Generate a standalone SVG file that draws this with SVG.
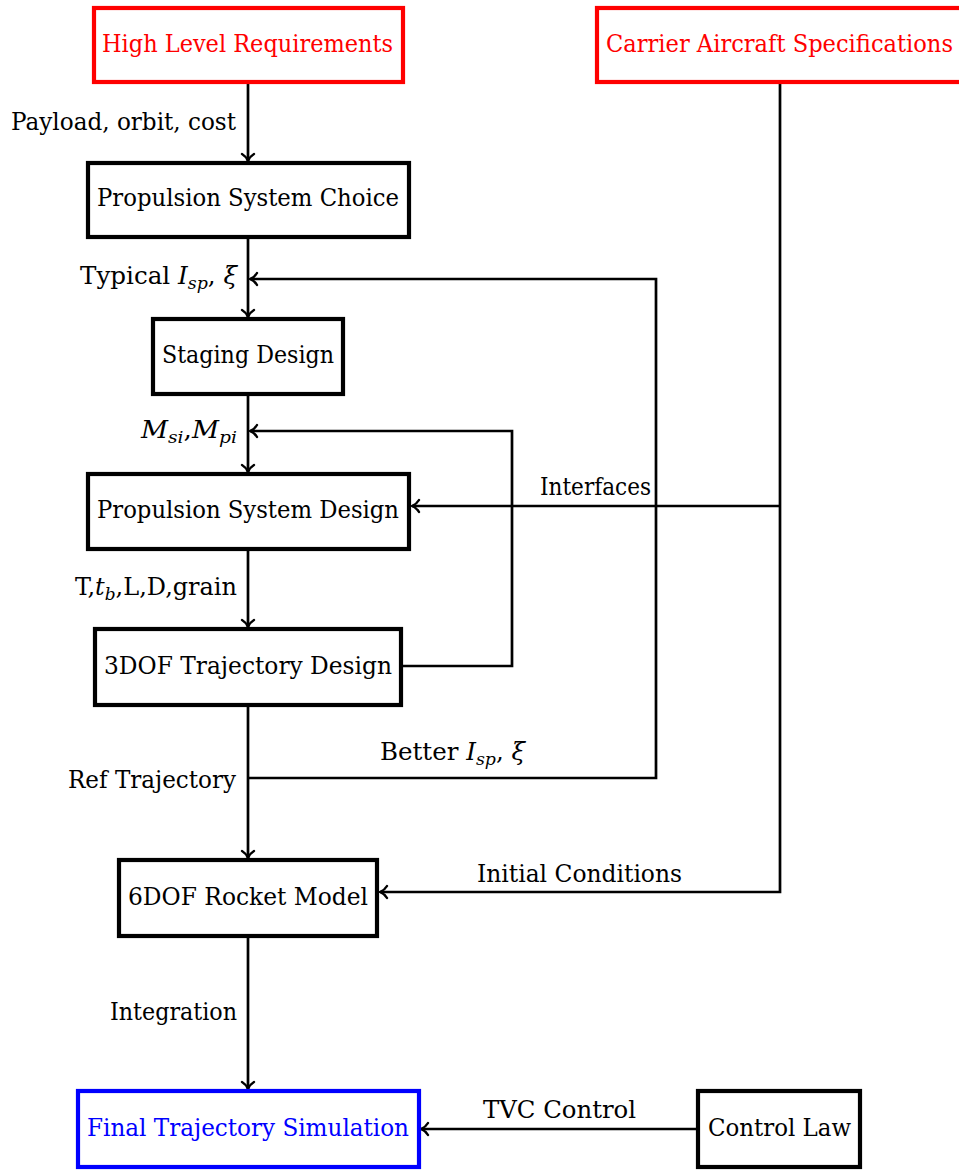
<svg xmlns="http://www.w3.org/2000/svg" width="959" height="1170" viewBox="0 0 959 1170" font-family="'DejaVu Serif', serif">
  <style>
    .box { fill: #ffffff; stroke: #000000; stroke-width: 4.2; }
    .red { stroke: #ff0000; }
    .blue { stroke: #0000ff; }
    .lbl { font-family: 'DejaVu Serif', serif; font-size: 24px; fill: #000000; }
    .tred { fill: #ff0000; }
    .tblue { fill: #0000ff; }
    .it { font-style: italic; }
    .sub { font-style: italic; font-size: 17px; }
    .wire { fill: none; stroke: #000000; stroke-width: 2.7; stroke-linejoin: miter; }
    .arr { marker-end: url(#head); }
  </style>
  <defs>
    <marker id="head" markerUnits="userSpaceOnUse" viewBox="-10 -8 12 16" markerWidth="12" markerHeight="16" refX="0" refY="0" orient="auto">
      <path d="M-7,-6 C-5,-2.5 -2,-0.8 0,0 C-2,0.8 -5,2.5 -7,6" fill="none" stroke="#000000" stroke-width="2.4" stroke-linecap="round"/>
    </marker>
  </defs>

  <!-- connectors -->
  <g id="connectors">
    <path class="wire arr" d="M248,82 V161"/>
    <path class="wire arr" d="M248,237 V317"/>
    <path class="wire arr" d="M248,394 V472"/>
    <path class="wire arr" d="M248,549 V627"/>
    <path class="wire arr" d="M248,706 V858"/>
    <path class="wire arr" d="M248,937 V1089"/>
    <!-- 3DOF feedback into staging output -->
    <path class="wire arr" d="M402,666 H512 V431 H250"/>
    <!-- better Isp feedback -->
    <path class="wire arr" d="M248,778 H656 V279 H250"/>
    <!-- carrier aircraft feeds -->
    <path class="wire arr" d="M780,82 V892 H380"/>
    <path class="wire arr" d="M780,506 H412"/>
    <!-- control law to simulation -->
    <path class="wire arr" d="M697,1129 H421"/>
  </g>

  <!-- edge labels -->
  <g id="edge-labels">
    <text class="lbl" x="236" y="130" text-anchor="end" textLength="225" lengthAdjust="spacingAndGlyphs">Payload, orbit, cost</text>
    <text class="lbl" x="80" y="284" textLength="157" lengthAdjust="spacingAndGlyphs">Typical <tspan class="it">I</tspan><tspan class="sub" dy="5">sp</tspan><tspan dy="-5">, </tspan><tspan class="it">ξ</tspan></text>
    <text class="lbl" x="141" y="438" textLength="96" lengthAdjust="spacingAndGlyphs"><tspan class="it">M</tspan><tspan class="sub" dy="5">si</tspan><tspan dy="-5">,</tspan><tspan class="it">M</tspan><tspan class="sub" dy="5">pi</tspan></text>
    <text class="lbl" x="540" y="495" textLength="111" lengthAdjust="spacingAndGlyphs">Interfaces</text>
    <text class="lbl" x="75" y="595" textLength="162" lengthAdjust="spacingAndGlyphs">T,<tspan class="it">t</tspan><tspan class="sub" dy="5">b</tspan><tspan dy="-5">,L,D,grain</tspan></text>
    <text class="lbl" x="380" y="760" textLength="145" lengthAdjust="spacingAndGlyphs">Better <tspan class="it">I</tspan><tspan class="sub" dy="5">sp</tspan><tspan dy="-5">, </tspan><tspan class="it">ξ</tspan></text>
    <text class="lbl" x="236" y="788" text-anchor="end" textLength="168" lengthAdjust="spacingAndGlyphs">Ref Trajectory</text>
    <text class="lbl" x="477" y="882" textLength="205" lengthAdjust="spacingAndGlyphs">Initial Conditions</text>
    <text class="lbl" x="237" y="1020" text-anchor="end" textLength="127" lengthAdjust="spacingAndGlyphs">Integration</text>
    <text class="lbl" x="483" y="1118" textLength="153" lengthAdjust="spacingAndGlyphs">TVC Control</text>
  </g>

  <!-- nodes -->
  <g id="high-level-requirements">
    <rect class="box red" x="94" y="8" width="309" height="74"/>
    <text class="lbl tred" x="102" y="52" textLength="291" lengthAdjust="spacingAndGlyphs">High Level Requirements</text>
  </g>
  <g id="carrier-aircraft-specifications">
    <!-- right side runs past the page edge -->
    <rect class="box red" x="597" y="8" width="372" height="74"/>
    <text class="lbl tred" x="606" y="52" textLength="347" lengthAdjust="spacingAndGlyphs">Carrier Aircraft Specifications</text>
  </g>
  <g id="propulsion-system-choice">
    <rect class="box" x="88" y="163" width="321" height="74"/>
    <text class="lbl" x="97" y="206" textLength="302" lengthAdjust="spacingAndGlyphs">Propulsion System Choice</text>
  </g>
  <g id="staging-design">
    <rect class="box" x="153" y="319" width="190" height="75"/>
    <text class="lbl" x="162" y="363" textLength="172" lengthAdjust="spacingAndGlyphs">Staging Design</text>
  </g>
  <g id="propulsion-system-design">
    <rect class="box" x="88" y="474" width="321" height="75"/>
    <text class="lbl" x="97" y="518" textLength="302" lengthAdjust="spacingAndGlyphs">Propulsion System Design</text>
  </g>
  <g id="trajectory-3dof">
    <rect class="box" x="95" y="629" width="306" height="76"/>
    <text class="lbl" x="104" y="674" textLength="288" lengthAdjust="spacingAndGlyphs">3DOF Trajectory Design</text>
  </g>
  <g id="rocket-model-6dof">
    <rect class="box" x="119" y="860" width="258" height="76"/>
    <text class="lbl" x="128" y="905" textLength="240" lengthAdjust="spacingAndGlyphs">6DOF Rocket Model</text>
  </g>
  <g id="final-trajectory-simulation">
    <rect class="box blue" x="78" y="1091" width="341" height="76"/>
    <text class="lbl tblue" x="87" y="1136" textLength="322" lengthAdjust="spacingAndGlyphs">Final Trajectory Simulation</text>
  </g>
  <g id="control-law">
    <rect class="box" x="698" y="1091" width="162" height="76"/>
    <text class="lbl" x="708" y="1136" textLength="143" lengthAdjust="spacingAndGlyphs">Control Law</text>
  </g>
</svg>
